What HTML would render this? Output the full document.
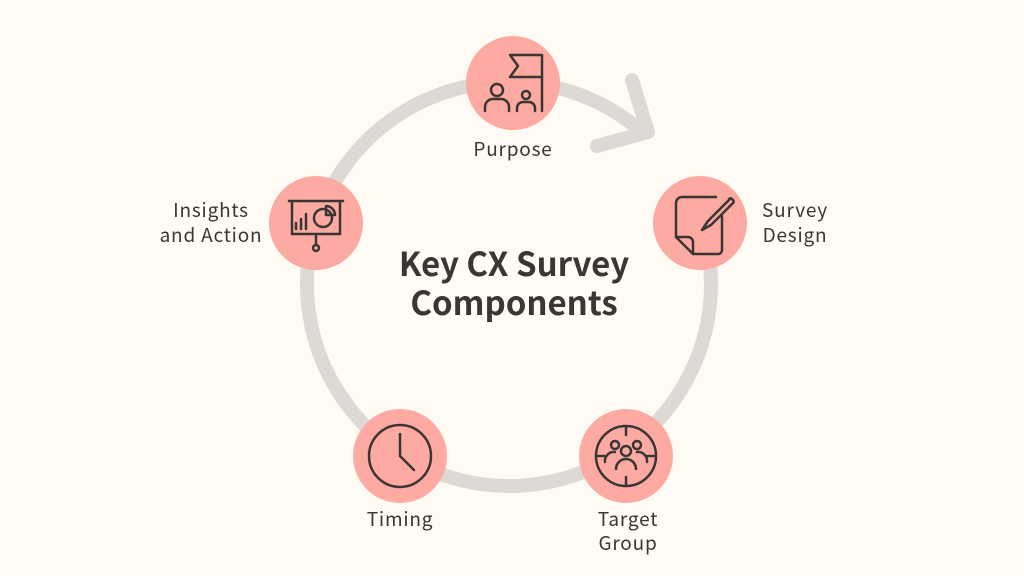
<!DOCTYPE html>
<html><head><style>
body{margin:0;background:#fefbf4;}
svg{display:block}
text{font-family:"Noto Sans CJK SC","Liberation Sans",sans-serif;fill:#3a3633}
</style></head><body>
<svg width="1024" height="576" viewBox="0 0 1024 576">
<rect width="1024" height="576" fill="#fefbf4"/>
<path d="M687.4,189.2 A202,202 0 1 1 641.5,131.5" fill="none" stroke="#dddad5" stroke-width="14" stroke-linecap="round"/>
<polyline points="632,80 648,132 597,146" fill="none" stroke="#dddad5" stroke-width="14" stroke-linecap="round" stroke-linejoin="round"/>
<g fill="#fdaaa2">
<circle cx="513" cy="83" r="47"/>
<circle cx="700" cy="223" r="47"/>
<circle cx="626" cy="456" r="47"/>
<circle cx="400" cy="456" r="47"/>
<circle cx="316" cy="223" r="47"/>
</g>
<g fill="none" stroke="#3a3633" stroke-width="2.5" stroke-linecap="round" stroke-linejoin="round">
<circle cx="497" cy="90" r="6"/>
<path d="M485,111 v-4 a8,8 0 0 1 8,-8 h8 a8,8 0 0 1 8,8 v4"/>
<circle cx="526" cy="95" r="4"/>
<path d="M517,111 v-3 a6,6 0 0 1 6,-6 h6 a6,6 0 0 1 6,6 v3"/>
<path d="M542,111 V55 h-32 l8,11 l-8,11 h32"/>
<path d="M676,203 a6,6 0 0 1 6,-6 h34 M722,216 v34 a4,4 0 0 1 -4,4 h-25 l-17,-17 v-34"/>
<path d="M676,237 h12 a5,5 0 0 1 5,5 v12"/>
<path d="M730,199 l-22,22 l-6,9 l9,-5 l22,-22 a2,2 0 0 0 0,-3 l-1,-1 a2,2 0 0 0 -3,0 z"/>
<path d="M289,201 h54 M292,201 v33 h48 v-33 M316,234 v11"/>
<circle cx="316" cy="248" r="3"/>
<path d="M296,229 v-6 M301,229 v-10 M306,229 v-15"/>
<circle cx="323" cy="218" r="9"/>
<path d="M326,206 a9,9 0 0 1 9,9 h-9 z"/>
<circle cx="400" cy="456" r="31"/>
<path d="M400,434 v22 l14,14"/>
<circle cx="626" cy="456" r="30"/>
<path d="M626,426 v9 M626,477 v9 M596,456 h9 M647,456 h9"/>
<circle cx="626" cy="451" r="5"/>
<path d="M616,469 a10,10 0 0 1 20,0"/>
<circle cx="615" cy="445" r="4"/>
<circle cx="637" cy="445" r="4"/>
<path d="M605,462 a9,9 0 0 1 10,-10 M647,462 a9,9 0 0 0 -10,-10"/>
</g>
<g font-size="19" letter-spacing="0.8" text-anchor="middle">
<text x="513" y="156">Purpose</text>
<text x="795" y="217">Survey</text>
<text x="795" y="242">Design</text>
<text x="628" y="526">Target</text>
<text x="628" y="550">Group</text>
<text x="400" y="526">Timing</text>
<text x="211" y="217">Insights</text>
<text x="211" y="242">and Action</text>
</g>
<g font-size="33" font-weight="bold" text-anchor="middle">
<text x="514" y="276">Key CX Survey</text>
<text x="514" y="315">Components</text>
</g>
</svg>
</body></html>
